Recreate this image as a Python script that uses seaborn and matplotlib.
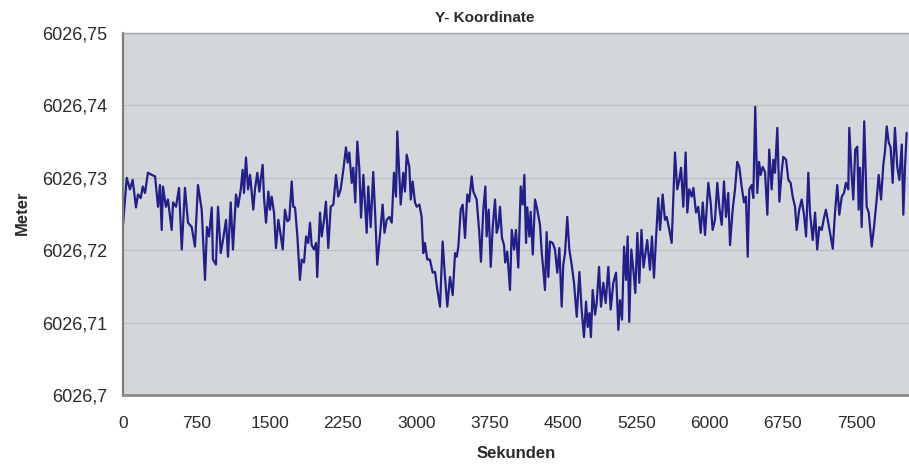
import matplotlib
matplotlib.use("Agg")
import matplotlib.pyplot as plt
from matplotlib.ticker import FuncFormatter
import pandas as pd
import seaborn as sns

# Zeitpunkte der Messung (Sekunden)
seconds = [
    0, 38, 71, 99, 133, 153, 181, 202, 225, 255, 294, 328, 358, 378, 396, 409, 439, 460, 498, 512,
    542, 573, 601, 634, 665, 703, 736, 767, 805, 839, 859, 880, 908, 920, 951, 972, 1000, 1023, 1054, 1074,
    1102, 1125, 1156, 1177, 1205, 1224, 1238, 1258, 1279, 1300, 1333, 1350, 1374, 1395, 1408, 1429, 1442, 1463, 1487, 1503,
    1521, 1545, 1565, 1589, 1613, 1634, 1657, 1681, 1701, 1726, 1742, 1760, 1784, 1810, 1828, 1852, 1873, 1895, 1913, 1930,
    1954, 1975, 1987, 2015, 2033, 2057, 2076, 2100, 2125, 2152, 2179, 2202, 2227, 2254, 2281, 2298, 2315, 2340, 2356, 2376,
    2397, 2417, 2435, 2459, 2475, 2493, 2509, 2534, 2560, 2581, 2601, 2629, 2656, 2675, 2698, 2725, 2749, 2772, 2793, 2806,
    2827, 2841, 2867, 2885, 2902, 2929, 2944, 2963, 2987, 3005, 3032, 3055, 3072, 3089, 3113, 3140, 3168, 3192, 3216, 3243,
    3270, 3294, 3318, 3345, 3373, 3397, 3414, 3431, 3455, 3475, 3499, 3522, 3542, 3567, 3584, 3618, 3645, 3662, 3686, 3707,
    3720, 3741, 3762, 3782, 3806, 3823, 3839, 3857, 3877, 3898, 3910, 3931, 3959, 3977, 4001, 4020, 4044, 4069, 4089, 4106,
    4123, 4136, 4157, 4171, 4192, 4215, 4238, 4266, 4284, 4300, 4317, 4334, 4351, 4369, 4396, 4419, 4443, 4464, 4488, 4504,
    4522, 4545, 4566, 4590, 4614, 4642, 4669, 4692, 4716, 4737, 4754, 4771, 4787, 4805, 4829, 4846, 4870, 4890, 4914, 4938,
    4965, 4989, 5016, 5044, 5068, 5084, 5105, 5126, 5146, 5163, 5179, 5200, 5221, 5241, 5262, 5282, 5304, 5325, 5363, 5391,
    5411, 5432, 5452, 5476, 5494, 5521, 5544, 5562, 5589, 5613, 5647, 5670, 5691, 5709, 5732, 5756, 5773, 5793, 5818, 5835,
    5862, 5885, 5910, 5931, 5954, 5988, 6012, 6032, 6056, 6080, 6100, 6125, 6148, 6169, 6192, 6210, 6237, 6261, 6284, 6305,
    6329, 6353, 6373, 6391, 6407, 6431, 6448, 6468, 6489, 6507, 6523, 6544, 6568, 6592, 6611, 6636, 6653, 6670, 6694, 6715,
    6738, 6755, 6783, 6807, 6830, 6851, 6875, 6892, 6918, 6943, 6967, 6988, 7011, 7028, 7056, 7080, 7102, 7123, 7148, 7172,
    7191, 7215, 7240, 7261, 7284, 7307, 7328, 7353, 7376, 7396, 7420, 7430, 7455, 7471, 7491, 7512, 7526, 7540, 7557, 7583,
    7608, 7629, 7660, 7683, 7710, 7731, 7755, 7778, 7795, 7813, 7833, 7853, 7874, 7897, 7921, 7942, 7967, 7983, 8000, 8017,
]

# Y-Koordinate als Abweichung in Millimetern über 6026,70 m
offset_mm = [
    23.5, 30.0, 28.4, 29.7, 25.9, 27.7, 27.2, 28.8, 27.9, 30.7, 30.4, 30.2, 26.0, 29.0, 22.8, 28.8, 26.0, 27.0, 22.8, 26.6,
    26.0, 28.6, 20.1, 28.6, 23.8, 23.2, 20.5, 29.0, 25.6, 15.9, 23.2, 21.9, 25.9, 18.7, 18.0, 26.0, 19.6, 21.4, 24.2, 19.1,
    26.6, 20.1, 27.7, 26.0, 28.4, 31.1, 27.9, 32.8, 28.4, 30.4, 25.6, 28.4, 30.7, 28.1, 29.7, 31.8, 27.4, 23.8, 28.1, 25.6,
    27.4, 25.2, 20.3, 24.2, 22.1, 20.1, 25.6, 24.0, 24.2, 29.5, 26.0, 25.9, 21.9, 15.9, 18.7, 18.3, 21.9, 21.0, 23.8, 20.7,
    20.1, 21.0, 16.3, 25.2, 21.9, 24.2, 26.7, 20.3, 26.0, 26.3, 30.4, 27.4, 28.4, 31.1, 34.2, 32.1, 33.5, 29.3, 31.4, 26.6,
    35.0, 31.4, 24.5, 30.4, 26.6, 22.4, 28.8, 23.2, 30.8, 24.6, 18.0, 22.1, 26.3, 22.4, 24.2, 24.6, 23.8, 30.7, 27.4, 36.4,
    30.2, 26.3, 30.7, 28.1, 33.2, 31.5, 27.0, 29.5, 26.6, 26.0, 26.3, 24.6, 19.6, 21.0, 18.7, 18.7, 16.9, 17.0, 14.5, 12.2,
    21.2, 16.3, 12.2, 16.3, 13.8, 19.6, 19.1, 20.5, 25.6, 26.3, 21.7, 27.7, 26.7, 30.2, 28.1, 27.0, 22.4, 18.4, 25.6, 28.8,
    21.9, 25.6, 17.7, 23.1, 27.0, 22.4, 23.2, 26.0, 21.7, 20.7, 18.3, 19.8, 14.5, 22.8, 20.1, 22.8, 17.6, 28.8, 26.3, 30.4,
    21.0, 25.9, 21.9, 25.3, 19.4, 27.0, 25.6, 23.5, 19.6, 17.3, 14.5, 22.5, 16.3, 21.2, 21.0, 20.1, 16.9, 20.3, 12.2, 18.0,
    19.6, 24.6, 20.1, 18.0, 15.5, 10.8, 17.0, 11.8, 8.0, 12.9, 9.4, 11.3, 8.0, 14.5, 11.1, 12.7, 17.7, 12.2, 15.5, 12.7,
    17.7, 11.8, 15.5, 16.9, 9.0, 13.1, 10.4, 20.5, 15.9, 21.9, 10.1, 20.1, 17.3, 14.1, 22.4, 15.5, 22.8, 17.6, 21.4, 17.3,
    21.9, 16.2, 21.4, 27.2, 22.8, 27.7, 24.2, 24.6, 22.8, 21.0, 33.5, 28.4, 29.7, 31.4, 26.0, 33.5, 25.2, 28.4, 27.4, 28.6,
    25.2, 26.0, 22.4, 26.6, 22.1, 29.3, 26.6, 22.8, 24.2, 29.3, 26.0, 23.5, 29.5, 24.6, 27.9, 20.7, 25.6, 28.4, 32.2, 31.5,
    28.8, 26.6, 27.4, 19.1, 28.4, 29.0, 27.2, 39.8, 27.9, 32.2, 30.4, 31.5, 30.8, 24.9, 33.9, 28.4, 32.5, 30.7, 36.9, 26.7,
    30.7, 32.9, 32.5, 29.7, 29.3, 27.4, 26.0, 22.8, 25.6, 27.0, 24.9, 21.9, 30.7, 25.2, 21.4, 25.2, 20.1, 23.2, 22.8, 24.5,
    25.6, 23.8, 21.9, 20.2, 25.2, 29.0, 24.9, 27.4, 27.9, 29.3, 28.4, 36.9, 30.2, 27.0, 33.9, 34.3, 25.6, 31.4, 23.2, 37.8,
    26.0, 25.2, 20.5, 23.2, 27.0, 30.4, 27.0, 31.8, 33.6, 37.1, 34.9, 34.2, 29.3, 36.9, 31.5, 29.7, 34.6, 24.9, 31.5, 36.2,
]

base_meter = 6026.70
x_ticks = list(range(0, 7501, 750))
y_ticks = [6026.70, 6026.71, 6026.72, 6026.73, 6026.74, 6026.75]

df = pd.DataFrame({
    "Sekunden": seconds,
    "Meter": [base_meter + v / 1000.0 for v in offset_mm],
})

sns.set_style("white")
plt.rcParams["font.family"] = ["Liberation Sans", "DejaVu Sans"]

text_color = "#2a2a2a"
fig = plt.figure(figsize=(9.09, 4.69), dpi=100)
ax = fig.add_axes([123 / 909, 74 / 469, 786 / 909, 362 / 469])
ax.set_facecolor("#d4d7da")

sns.lineplot(data=df, x="Sekunden", y="Meter", ax=ax, color="#221e8a",
             linewidth=1.6, estimator=None, sort=False)

ax.set_xlim(0, 8041)
ax.set_ylim(y_ticks[0], y_ticks[-1])
ax.set_xticks(x_ticks)
ax.set_yticks(y_ticks)
ax.yaxis.set_major_formatter(
    FuncFormatter(lambda v, p: f"{v:.2f}".rstrip("0").replace(".", ",")))
ax.xaxis.set_major_formatter(FuncFormatter(lambda v, p: f"{int(round(v))}"))

ax.grid(axis="y", color="#bcbfc2", linewidth=0.9)
ax.grid(axis="x", visible=False)
ax.set_axisbelow(True)

for side, col, lw in [("left", "#7c7c7c", 1.6), ("bottom", "#8a8a8a", 2.0), ("top", "#a3a3a3", 1.0)]:
    ax.spines[side].set_color(col)
    ax.spines[side].set_linewidth(lw)
ax.spines["right"].set_visible(False)

ax.tick_params(axis="y", length=4, width=1, color="#7c7c7c", pad=7,
               labelsize=13, labelcolor=text_color)
ax.tick_params(axis="x", length=0, pad=15, labelsize=12.5, labelcolor=text_color)

ax.set_xlabel("Sekunden", fontsize=12, fontweight="bold", color=text_color)
ax.xaxis.set_label_coords(0.5, -0.141)
ax.set_ylabel("Meter", fontsize=12, fontweight="bold", color=text_color)
ax.yaxis.label.set_verticalalignment("center")
ax.yaxis.set_label_coords((22 - 123) / 786, (395 - 213) / 362)

ax.set_title("Y- Koordinate", fontsize=11, fontweight="bold", color=text_color,
             x=0.46, y=1.041, va="center", pad=0)

fig.savefig("out.png", dpi=100, facecolor="white")
